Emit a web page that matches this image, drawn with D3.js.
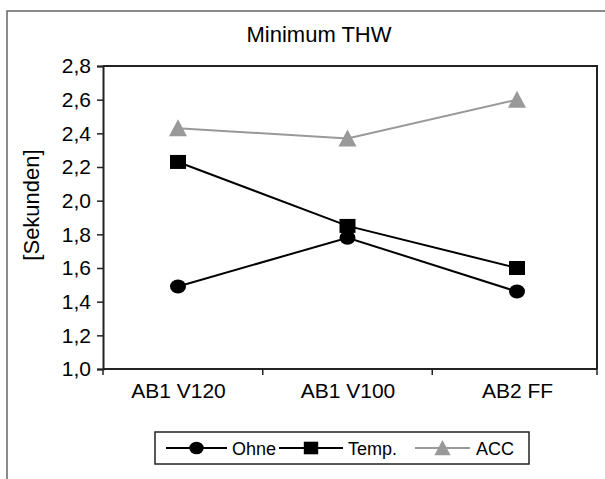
<!DOCTYPE html>
<html>
<head>
<meta charset="utf-8">
<script src="https://cdn.jsdelivr.net/npm/d3@7"></script>
<style>
  body { margin: 0; background: #fff; }
  text { font-family: "Liberation Sans", Arial, sans-serif; fill: #000; }
</style>
</head>
<body>
<div id="chart"></div>
<script>
// Data
const categories = ["AB1 V120", "AB1 V100", "AB2 FF"];
const ohne = [1.49, 1.78, 1.46];
const temp = [2.23, 1.85, 1.60];
const acc = [2.43, 2.37, 2.60];
const yTicks = [1.0, 1.2, 1.4, 1.6, 1.8, 2.0, 2.2, 2.4, 2.6, 2.8];

const series = [
    { name: "Ohne", values: ohne, color: "#000", symbol: "circle" },
    { name: "Temp.", values: temp, color: "#000", symbol: "square" },
    { name: "ACC", values: acc, color: "#999", symbol: "triangle" }
];

const W = 605, H = 479;
const plot = { left: 103, right: 597, top: 66, bottom: 369 };

const svg = d3.select("#chart")
    .append("svg")
    .attr("width", W)
    .attr("height", H);

// outer frame (right/bottom edges fall outside the picture)
svg.append("rect")
    .attr("x", 7).attr("y", 11)
    .attr("width", 700).attr("height", 600)
    .attr("fill", "none")
    .attr("stroke", "#666")
    .attr("stroke-width", 1.5);

// scales
const xScale = d3.scalePoint().domain(categories).range([178, 517]);
const yScale = d3.scaleLinear().domain([1.0, 2.8]).range([plot.bottom, plot.top]);

const de = d3.formatLocale({ decimal: ",", thousands: ".", grouping: [3], currency: ["", " €"] });
const fmt = de.format(".1f");

// plot border (top and right)
svg.append("path")
    .attr("d", `M${plot.left},${plot.top}H${plot.right}V${plot.bottom}`)
    .attr("fill", "none")
    .attr("stroke", "#222")
    .attr("stroke-width", 2);

// y axis
const yAxisGroup = svg.append("g")
    .attr("transform", `translate(${plot.left},0)`)
    .call(d3.axisLeft(yScale).tickValues(yTicks).tickFormat(fmt).tickSize(6).tickPadding(6));
yAxisGroup.select(".domain").attr("stroke", "#222").attr("stroke-width", 2);
yAxisGroup.selectAll(".tick line").attr("stroke", "#222").attr("stroke-width", 1.5);
yAxisGroup.selectAll("text").attr("font-size", 21).attr("fill", "#000")
    .attr("font-family", "Liberation Sans, Arial, sans-serif");

// x axis: labels at category centres, ticks between categories
const xAxisGroup = svg.append("g")
    .attr("transform", `translate(0,${plot.bottom})`)
    .call(d3.axisBottom(xScale).tickSize(0).tickPadding(14));
xAxisGroup.select(".domain").remove();
xAxisGroup.selectAll("text").attr("font-size", 21).attr("fill", "#000")
    .attr("font-family", "Liberation Sans, Arial, sans-serif");

const boundaries = [plot.left];
for (let i = 0; i < categories.length - 1; i++) {
    boundaries.push((xScale(categories[i]) + xScale(categories[i + 1])) / 2);
}
boundaries.push(plot.right);

svg.append("line")
    .attr("x1", plot.left).attr("x2", plot.right)
    .attr("y1", plot.bottom).attr("y2", plot.bottom)
    .attr("stroke", "#222").attr("stroke-width", 2);
svg.selectAll(".xtick")
    .data(boundaries)
    .enter()
    .append("line")
    .attr("class", "xtick")
    .attr("x1", d => d).attr("x2", d => d)
    .attr("y1", plot.bottom).attr("y2", plot.bottom + 6)
    .attr("stroke", "#222").attr("stroke-width", 1.5);

// title and axis label
svg.append("text")
    .attr("x", 319).attr("y", 42)
    .attr("text-anchor", "middle")
    .attr("font-size", 22)
    .text("Minimum THW");

svg.append("text")
    .attr("transform", "translate(39,205) rotate(-90)")
    .attr("text-anchor", "middle")
    .attr("font-size", 22)
    .text("[Sekunden]");

// marker drawing
function drawMarker(g, type, color) {
    if (type === "circle") {
        g.append("ellipse").attr("rx", 8).attr("ry", 7).attr("fill", color);
    } else if (type === "square") {
        g.append("rect").attr("x", -8).attr("y", -7).attr("width", 16).attr("height", 14).attr("fill", color);
    } else {
        g.append("path").attr("d", "M0,-9L9,8L-9,8Z").attr("fill", color);
    }
}

const line = d3.line()
    .x((d, i) => xScale(categories[i]))
    .y(d => yScale(d));

// draw ACC first so the black series sit on top
[series[2], series[0], series[1]].forEach(s => {
    svg.append("path")
        .attr("d", line(s.values))
        .attr("fill", "none")
        .attr("stroke", s.color)
        .attr("stroke-width", 2);
    s.values.forEach((v, i) => {
        const g = svg.append("g")
            .attr("transform", `translate(${xScale(categories[i])},${yScale(v)})`);
        drawMarker(g, s.symbol, s.color);
    });
});

// legend
const legend = svg.append("g");
legend.append("rect")
    .attr("x", 155).attr("y", 432)
    .attr("width", 374).attr("height", 32)
    .attr("fill", "#fff")
    .attr("stroke", "#222")
    .attr("stroke-width", 1.5);

const legendItems = [
    { s: series[0], x1: 166, x2: 227, tx: 232 },
    { s: series[1], x1: 279, x2: 343, tx: 348 },
    { s: series[2], x1: 415, x2: 470, tx: 476 }
];
legendItems.forEach(it => {
    legend.append("line")
        .attr("x1", it.x1).attr("x2", it.x2)
        .attr("y1", 448).attr("y2", 448)
        .attr("stroke", it.s.color).attr("stroke-width", 2);
    const g = legend.append("g")
        .attr("transform", `translate(${(it.x1 + it.x2) / 2},448) scale(0.9)`);
    drawMarker(g, it.s.symbol, it.s.color);
    legend.append("text")
        .attr("x", it.tx).attr("y", 455)
        .attr("font-size", 18)
        .text(it.s.name);
});
</script>
</body>
</html>
